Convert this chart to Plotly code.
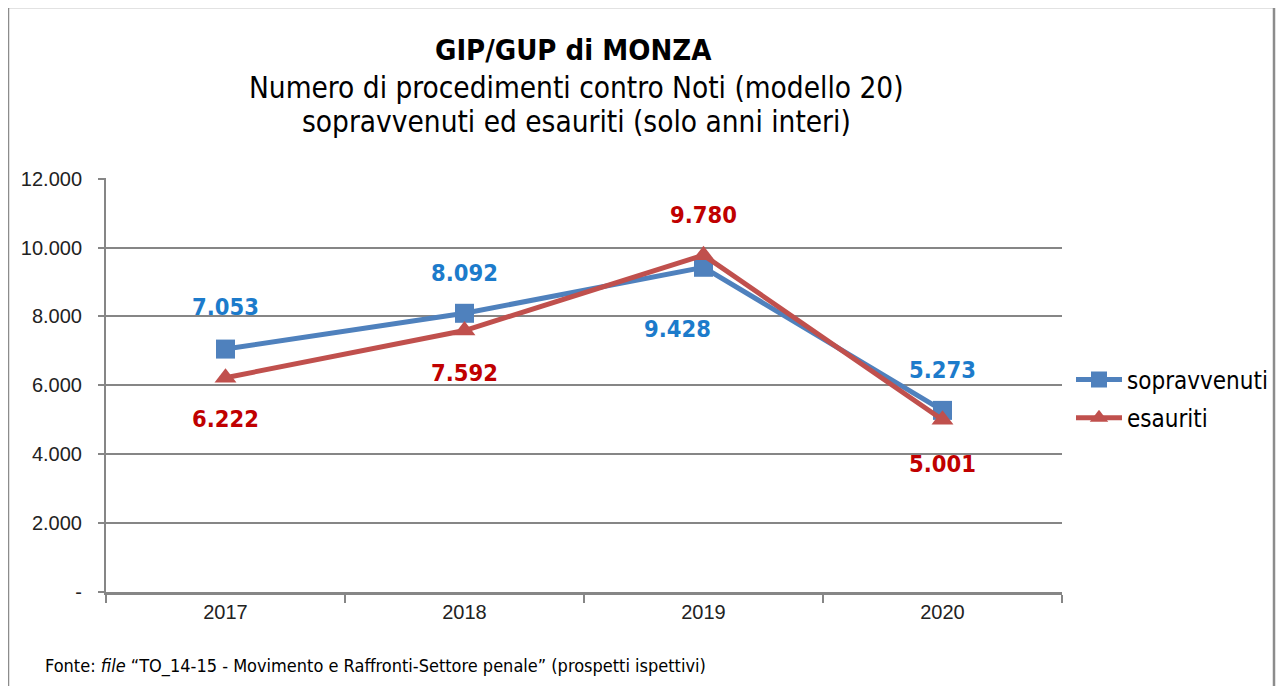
import plotly.graph_objects as go

years = ["2017", "2018", "2019", "2020"]
sopravvenuti = [7053, 8092, 9428, 5273]
esauriti = [6222, 7592, 9780, 5001]
ytick_vals = [0, 2000, 4000, 6000, 8000, 10000, 12000]
ytick_text = ["-", "2.000", "4.000", "6.000", "8.000", "10.000", "12.000"]

# label placement (pixel shifts) for each point
sop_shift = [(0, 42), (0, 40), (-26, -62), (0, 40)]
esa_shift = [(0, -41), (0, -42), (0, 40), (0, -44)]

BLUE_LINE = "#4F81BD"
RED_LINE = "#C0504D"
BLUE_TXT = "#1C7BCB"
RED_TXT = "#C00000"
FONT = "DejaVu Sans Condensed, DejaVu Sans, sans-serif"
TICKFONT = "Liberation Sans, Arial, sans-serif"

def fmt(v):
    return f"{v:,}".replace(",", ".")

# page body has an 8px margin: work in reference coords minus OFF
OFF = 8
FW, FH = 1284 - OFF, 686 - OFF
PL, PR, PT, PB = 106 - OFF, 1062 - OFF, 178 - OFF, 592 - OFF
L, R, T, B = PL, FW - PR, PT, FH - PB
W, H = PR - PL, PB - PT
def px(xr): return (xr - OFF - PL) / W
def py(yr): return (PB - (yr - OFF)) / H

fig = go.Figure()
fig.add_trace(go.Scatter(x=years, y=sopravvenuti, name="sopravvenuti", mode="lines+markers",
                         legendgroup="a",
                         line=dict(color=BLUE_LINE, width=5),
                         marker=dict(symbol="square", size=19, color=BLUE_LINE)))
fig.add_trace(go.Scatter(x=years, y=esauriti, name="esauriti", mode="lines+markers",
                         legendgroup="b",
                         line=dict(color=RED_LINE, width=5),
                         marker=dict(symbol="triangle-up", size=19, color=RED_LINE)))

ann = []
for i, (v, (dx, dy)) in enumerate(zip(sopravvenuti, sop_shift)):
    ann.append(dict(x=i, y=v, text=f"<b>{fmt(v)}</b>", showarrow=False, xshift=dx, yshift=dy,
                    font=dict(family=FONT, size=23.5, color=BLUE_TXT)))
for i, (v, (dx, dy)) in enumerate(zip(esauriti, esa_shift)):
    ann.append(dict(x=i, y=v, text=f"<b>{fmt(v)}</b>", showarrow=False, xshift=dx, yshift=dy,
                    font=dict(family=FONT, size=23.5, color=RED_TXT)))

ann.append(dict(xref="paper", yref="paper", x=px(573), y=py(50), xanchor="center", yanchor="middle",
                text="<b>GIP/GUP di MONZA</b>",
                showarrow=False, font=dict(family=FONT, size=29, color="#000")))
ann.append(dict(xref="paper", yref="paper", x=px(576), y=py(88), xanchor="center", yanchor="middle",
                text="Numero di procedimenti contro Noti (modello 20)",
                showarrow=False, font=dict(family=FONT, size=29.5, color="#000")))
ann.append(dict(xref="paper", yref="paper", x=px(576), y=py(122), xanchor="center", yanchor="middle",
                text="sopravvenuti ed esauriti (solo anni interi)",
                showarrow=False, font=dict(family=FONT, size=29.5, color="#000")))
ann.append(dict(xref="paper", yref="paper", x=px(43), y=py(666), xanchor="left", yanchor="middle",
                text="Fonte: <i>file</i> “TO_14-15 - Movimento e Raffronti-Settore penale” (prospetti ispettivi)",
                showarrow=False, font=dict(family=FONT, size=18, color="#000")))

shapes = [dict(type="rect", xref="paper", yref="paper", x0=px(8), x1=px(1274), y0=py(720), y1=py(7),
               line=dict(color="#8C8C8C", width=2.5), layer="below")]

fig.update_layout(
    width=FW, height=FH,
    margin=dict(l=L, r=R, t=T, b=B, autoexpand=False),
    paper_bgcolor="white", plot_bgcolor="white",
    showlegend=True,
    legend=dict(x=px(1071), y=py(399), xanchor="left", yanchor="middle",
                font=dict(family=FONT, size=24, color="#000"),
                traceorder="grouped", tracegroupgap=4,
                bgcolor="rgba(0,0,0,0)", itemwidth=46),
    annotations=ann, shapes=shapes,
    xaxis=dict(type="category", showgrid=False, showline=True, linecolor="#868686", linewidth=3,
               ticks="outside", tickson="boundaries", ticklen=8, tickcolor="#868686", tickwidth=2,
               tickfont=dict(family=TICKFONT, size=20, color="#222"),
               range=[-0.5, 3.5], fixedrange=True),
    yaxis=dict(range=[0, 12020], tickvals=ytick_vals, ticktext=ytick_text,
               showgrid=True, gridcolor="#868686", gridwidth=2,
               showline=True, linecolor="#868686", linewidth=2, zeroline=False,
               ticks="outside", ticklen=6, tickcolor="#868686", tickwidth=2,
               ticklabelstandoff=12,
               tickfont=dict(family=TICKFONT, size=20, color="#222")),
)

fig.write_html("out.html")
